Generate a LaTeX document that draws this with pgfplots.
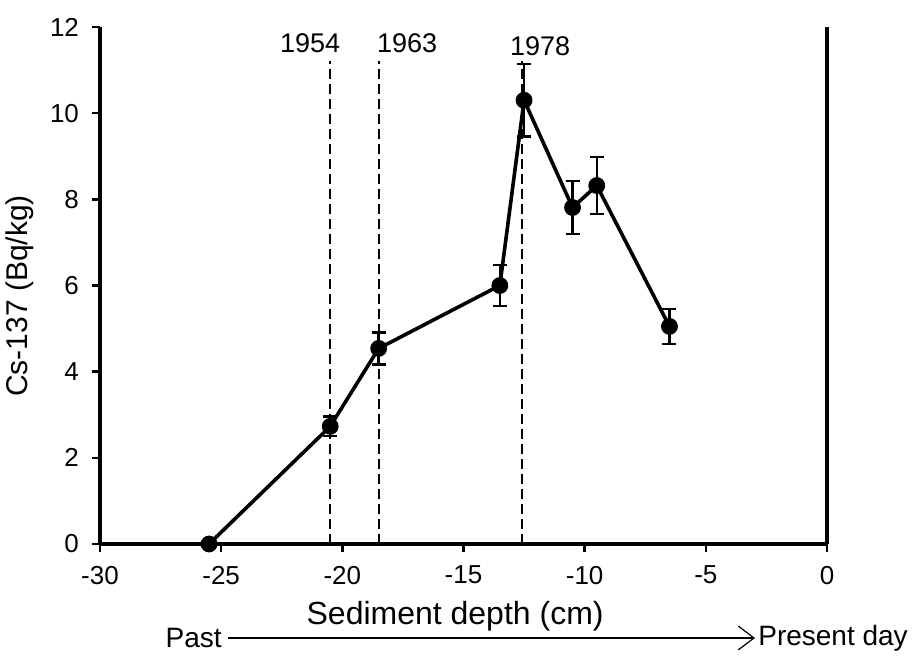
\documentclass[border=0pt]{standalone}
\usepackage{fontspec}
\setmainfont{Liberation Sans}
\usepackage{pgfplots}
\pgfplotsset{compat=1.18}
\begin{document}
\begin{tikzpicture}
\begin{axis}[
  scale only axis,
  width=363.5pt, height=258.5pt,
  xmin=-30, xmax=0, ymin=0, ymax=12,
  axis x line*=bottom, axis y line*=left,
  axis line style={line width=1.6pt, -},
  xtick={-30,-25,...,0},
  ytick={0,2,...,12},
  minor tick num=0,
  tick align=outside,
  major tick length=4pt,
  every tick/.style={black, line width=1.2pt},
  tick label style={font=\fontsize{13}{14}\selectfont},
  /pgf/number format/assume math mode=true,
  xticklabel style={yshift=-3.5pt},
  yticklabel style={xshift=-3pt},
  xlabel={Sediment depth (cm)},
  ylabel={Cs-137 (Bq/kg)},
  xlabel style={font=\fontsize{16}{17}\selectfont, at={(axis description cs:0.4885,-0.1395)}, anchor=center},
  ylabel style={font=\fontsize{15}{16}\selectfont, at={(axis description cs:-0.11,0.48)}, anchor=center, rotate=0},
  clip=false,
]
% right frame line
\draw[line width=1.6pt] (rel axis cs:1,0) -- (rel axis cs:1,1);

% reference years
\addplot[black, line width=1pt, dash pattern=on 5pt off 2.5pt, forget plot]
  coordinates {(-20.5,0) (-20.5,11.2)};
\addplot[black, line width=1pt, dash pattern=on 5pt off 2.5pt, forget plot]
  coordinates {(-18.5,0) (-18.5,11.2)};
\addplot[black, line width=1pt, dash pattern=on 5pt off 2.5pt, forget plot]
  coordinates {(-12.6,0) (-12.6,11.2)};

\node[font=\fontsize{13.5}{14}\selectfont] at (axis cs:-21.33,11.62) {1954};
\node[font=\fontsize{13.5}{14}\selectfont] at (axis cs:-17.33,11.62) {1963};
\node[font=\fontsize{13.5}{14}\selectfont] at (axis cs:-11.84,11.55) {1978};

% Cs-137 profile
\addplot[black, line width=1.8pt, line join=round,
  mark=*, mark size=3.3pt,
  error bars/.cd, y dir=both, y explicit,
  error bar style={line width=1.2pt},
  error mark options={rotate=90, mark size=3.5pt, line width=1.2pt}]
  coordinates {
  (-25.5,0)    +- (0,0)
  (-20.5,2.73) +- (0,0.23)
  (-18.5,4.54) +- (0,0.37)
  (-13.5,6.00) +- (0,0.48)
  (-12.5,10.30) +- (0,0.84)
  (-10.5,7.81) +- (0,0.61)
  (-9.5,8.32)  +- (0,0.66)
  (-6.5,5.05)  +- (0,0.41)
  };

% time direction
\node[font=\fontsize{14}{14}\selectfont, anchor=east, inner sep=0pt] at (axis description cs:0.168,-0.1818) {Past};
\draw[line width=0.6pt] (axis description cs:0.176,-0.1818) -- (axis description cs:0.8996,-0.1818);
\draw[line width=0.6pt] (axis description cs:0.878,-0.1588) -- (axis description cs:0.8996,-0.1818) -- (axis description cs:0.878,-0.2048);
\node[font=\fontsize{14}{14}\selectfont, anchor=west, inner sep=0pt] at (axis description cs:0.905,-0.1818) {Present day};
\end{axis}
\pgfresetboundingbox
\path[use as bounding box] (-50pt,-57pt) rectangle (410pt,272pt);
\end{tikzpicture}
\end{document}
